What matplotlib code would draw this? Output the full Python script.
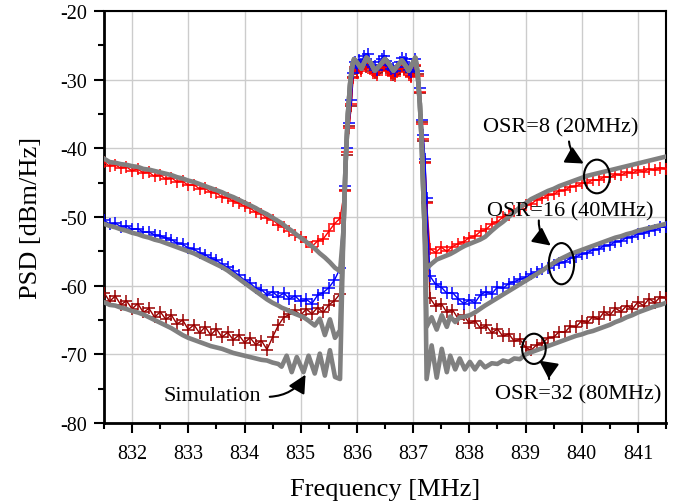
import numpy as np
import matplotlib
matplotlib.use("Agg")
import matplotlib.pyplot as plt
from matplotlib.patches import Ellipse, FancyArrowPatch
from matplotlib.ticker import MultipleLocator

plt.rcParams['font.family'] = ['Liberation Serif', 'DejaVu Serif']
plt.rcParams['axes.unicode_minus'] = False

# measured spectra: frequency grids (MHz)
f_left = np.linspace(831.5, 835.7, 43)
f_right = np.linspace(837.3, 841.5, 43)
f_band = [835.78, 835.82, 835.86, 835.90, 835.93, 835.96,
          836.00, 836.04, 836.08, 836.12, 836.16, 836.20, 836.24, 836.28,
          836.32, 836.36, 836.40, 836.44, 836.48, 836.52, 836.56, 836.60,
          836.64, 836.68, 836.72, 836.76, 836.80, 836.84, 836.88, 836.92,
          836.96, 837.00, 837.04, 837.08, 837.12, 837.15, 837.18, 837.21, 837.24]

# OSR=8 measured (red)
red_left = [-42.0, -42.6, -42.4, -42.9, -42.7, -43.3, -43.0, -43.6, -43.5, -44.1,
            -43.9, -44.5, -44.3, -44.9, -44.8, -45.4, -45.3, -45.9, -45.8, -46.4,
            -46.5, -47.1, -47.2, -47.7, -48.0, -48.4, -48.7, -49.3, -49.5, -50.2,
            -50.4, -51.1, -51.5, -52.0, -52.6, -52.9, -53.6, -54.3, -53.5, -53.2,
            -52.1, -51.0, -50.2]
red_band = [-46.2, -40.6, -37.0, -33.6, -29.8, -28.2, -29.0, -28.0, -28.7, -27.5,
            -27.9, -27.4, -28.4, -29.0, -28.9, -29.3, -28.4, -27.9, -27.6, -28.2,
            -28.8, -29.3, -29.1, -29.5, -28.9, -28.2, -27.8, -28.4, -27.9, -29.3,
            -29.6, -28.5, -27.8, -29.5, -31.8, -36.5, -38.7, -42.2, -48.0]
red_right = [-54.6, -55.2, -54.4, -55.0, -54.3, -53.9, -53.6, -53.0, -52.8, -52.1,
             -51.8, -51.0, -50.7, -50.0, -49.7, -49.1, -48.9, -48.3, -48.1, -47.5,
             -47.3, -46.8, -46.7, -46.2, -46.1, -45.6, -45.5, -45.1, -45.0, -44.6,
             -44.6, -44.2, -44.2, -43.8, -43.9, -43.5, -43.6, -43.2, -43.4, -43.0,
             -43.2, -42.8, -43.0]

# OSR=16 measured (blue)
blue_left = [-50.5, -51.0, -50.9, -51.4, -51.3, -51.8, -51.7, -52.2, -52.2, -52.6,
             -52.7, -53.1, -53.3, -53.8, -54.0, -54.5, -54.7, -55.2, -55.5, -56.0,
             -56.3, -56.9, -57.3, -57.9, -58.5, -59.2, -59.6, -60.4, -60.6, -61.3,
             -60.9, -61.6, -61.1, -61.9, -61.5, -62.3, -62.0, -62.6, -61.4, -61.0,
             -60.3, -59.2, -57.5]
blue_band = [-45.5, -40.0, -36.3, -33.0, -29.0, -27.5, -28.3, -27.2, -27.9, -26.5,
             -27.0, -26.3, -27.8, -28.2, -28.0, -28.6, -27.5, -27.0, -26.6, -27.3,
             -27.9, -28.5, -28.3, -28.8, -28.1, -27.4, -26.9, -27.5, -27.0, -28.6,
             -28.9, -27.7, -27.0, -28.8, -31.2, -35.9, -38.0, -41.5, -47.3]
blue_right = [-58.6, -59.8, -60.2, -61.1, -61.0, -61.9, -62.6, -62.1, -62.5, -61.3,
              -60.9, -61.2, -60.2, -60.4, -59.7, -59.4, -59.1, -58.8, -58.3, -58.0,
              -57.6, -57.4, -57.0, -56.7, -56.5, -56.0, -55.8, -55.4, -55.2, -54.8,
              -54.7, -54.2, -54.1, -53.6, -53.5, -53.0, -52.9, -52.5, -52.4, -52.0,
              -51.9, -51.5, -51.5]

# OSR=32 measured (dark red)
dred_left = [-61.0, -62.3, -61.5, -62.8, -62.2, -63.4, -62.6, -63.9, -63.3, -64.6,
             -63.8, -64.9, -64.3, -65.6, -65.0, -66.4, -65.7, -66.9, -66.0, -67.2,
             -66.3, -67.5, -66.8, -67.9, -67.2, -68.3, -67.6, -68.6, -68.0, -69.3,
             -67.5, -65.8, -64.6, -64.2, -63.6, -64.3, -63.4, -64.1, -63.2, -63.9,
             -62.8, -62.2, -61.2]
dred_band = [-46.0, -40.9, -36.8, -33.8, -29.6, -28.4, -28.8, -28.2, -28.5, -27.7,
             -28.1, -27.6, -28.2, -28.8, -29.1, -29.0, -28.6, -28.1, -27.8, -28.0,
             -28.6, -29.1, -29.3, -29.2, -28.7, -28.4, -28.0, -28.2, -28.1, -29.0,
             -29.4, -28.7, -28.0, -29.2, -32.0, -36.2, -38.9, -42.0, -47.8]
dred_right = [-61.8, -63.0, -62.6, -63.9, -63.5, -64.8, -64.3, -65.5, -65.1, -66.2,
              -65.8, -66.9, -66.3, -67.4, -67.0, -68.1, -67.8, -69.0, -69.4, -68.6,
              -68.4, -67.6, -67.5, -66.7, -66.8, -65.9, -66.0, -65.1, -65.4, -64.5,
              -64.9, -63.8, -64.3, -63.3, -63.8, -62.9, -63.4, -62.4, -62.9, -61.9,
              -62.5, -61.6, -61.8]

# simulated spectra (gray): frequency grids
fs_left = np.concatenate([np.linspace(831.5, 834.6, 32),
                          [834.66, 834.75, 834.84, 834.93, 835.05, 835.14,
                           835.25, 835.34, 835.43, 835.52, 835.61, 835.70]])
fs_band = [835.76, 835.80, 835.84, 835.88, 835.92, 835.95, 836.01, 836.08, 836.17,
           836.25, 836.32, 836.41, 836.50, 836.58, 836.65, 836.72, 836.80, 836.86,
           836.92, 836.98, 837.04, 837.08, 837.12, 837.15, 837.18, 837.21]
fs_right = np.concatenate([[837.24, 837.33, 837.42, 837.51, 837.60, 837.66, 837.75,
                            837.83, 837.92, 838.01, 838.10, 838.19, 838.28],
                           np.linspace(838.4, 841.5, 32)])

sim_band = [-52.0, -42.0, -35.0, -30.5, -27.8, -27.0, -27.6, -28.4, -26.8, -27.6,
            -28.7, -27.9, -27.0, -27.8, -28.7, -28.0, -27.2, -27.9, -28.7, -27.8,
            -26.8, -29.0, -33.5, -38.5, -46.0, -53.0]

sim8_left = [-41.5, -42.0, -42.1, -42.3, -42.4, -42.6, -42.7, -43.0, -43.1, -43.3,
             -43.5, -43.7, -43.9, -44.2, -44.4, -44.7, -44.9, -45.2, -45.5, -45.8,
             -46.1, -46.4, -46.8, -47.1, -47.5, -47.9, -48.3, -48.7, -49.2, -49.6,
             -50.1, -50.6,
             -50.9, -51.5, -52.0, -52.6, -53.3, -53.9, -54.6, -55.3, -55.9, -56.6,
             -57.4, -57.9]
sim8_right = [-57.5, -56.8, -56.2, -55.9, -55.6, -55.4, -55.0, -54.6, -54.2, -53.9,
              -53.6, -53.3, -52.9,
              -52.0, -51.3, -50.7, -50.0, -49.3, -48.6, -48.0, -47.4, -47.0, -46.6,
              -46.2, -45.9, -45.5, -45.2, -44.9, -44.6, -44.3, -44.0, -43.8, -43.6,
              -43.4, -43.2, -43.0, -42.8, -42.6, -42.4, -42.2, -42.0, -41.8, -41.6,
              -41.4, -41.2]

sim16_left = [-51.0, -51.3, -51.5, -51.8, -52.0, -52.3, -52.5, -52.8, -53.0, -53.3,
              -53.5, -53.8, -54.1, -54.4, -54.7, -55.0, -55.3, -55.7, -56.1, -56.5,
              -56.9, -57.3, -57.8, -58.4, -59.0, -59.6, -60.2, -60.8, -61.4, -62.0,
              -62.5, -62.9,
              -63.2, -63.5, -63.9, -64.2, -64.6, -65.1, -65.8, -64.8, -67.2, -64.9,
              -67.6, -66.5]
sim16_right = [-66.0, -64.6, -66.4, -64.3, -66.0, -64.5, -65.3, -64.6, -64.5, -64.3,
               -63.9, -63.4, -62.9,
               -62.3, -61.8, -61.3, -60.8, -60.3, -59.8, -59.3, -58.8, -58.3, -57.8,
               -57.2, -56.7, -56.2, -55.8, -55.4, -55.1, -54.8, -54.5, -54.2, -53.9,
               -53.6, -53.3, -53.0, -52.8, -52.5, -52.3, -52.0, -51.8, -51.6, -51.4,
               -51.2, -51.0]

sim32_left = [-62.4, -62.8, -62.9, -63.2, -63.4, -63.7, -63.9, -64.2, -64.6, -65.0,
              -65.4, -65.8, -66.2, -66.7, -67.2, -67.6, -67.9, -68.2, -68.5, -68.8,
              -69.0, -69.2, -69.5, -69.8, -70.0, -70.2, -70.4, -70.6, -70.8, -70.9,
              -71.2, -71.4,
              -71.8, -70.2, -72.6, -70.4, -72.6, -70.2, -72.8, -69.9, -73.1, -69.4,
              -73.3, -73.6]
sim32_right = [-73.6, -68.7, -73.4, -69.2, -72.6, -70.2, -72.2, -70.6, -72.2, -71.1,
               -72.2, -71.1, -71.9,
               -71.3, -71.4, -70.9, -71.1, -70.6, -70.7, -70.0, -69.7, -69.4, -69.1,
               -68.8, -68.5, -68.2, -67.9, -67.6, -67.3, -67.1, -66.8, -66.6, -66.3,
               -66.0, -65.7, -65.3, -65.0, -64.6, -64.3, -63.9, -63.6, -63.3, -63.0,
               -62.8, -62.5]

fig = plt.figure(figsize=(6.78, 5.02), dpi=100)
ax = fig.add_axes([0.1534, 0.1554, 0.8289, 0.8207])

fm = np.concatenate([f_left, f_band, f_right])
fs = np.concatenate([fs_left, fs_band, fs_right])

for left, band, right, col in [(dred_left, dred_band, dred_right, '#990000'),
                               (red_left, red_band, red_right, '#ff0000'),
                               (blue_left, blue_band, blue_right, '#0000ff')]:
    ax.plot(fm, np.concatenate([left, band, right]), color=col, lw=1.0,
            marker='+', ms=8, mew=1.1, zorder=3)

for left, right in [(sim8_left, sim8_right), (sim16_left, sim16_right),
                    (sim32_left, sim32_right)]:
    ax.plot(fs, np.concatenate([left, sim_band, right]), color='#808080',
            lw=3.3, solid_joinstyle='round', zorder=4)

ax.set_xlim(831.5, 841.5)
ax.set_ylim(-80, -20)
ax.xaxis.set_major_locator(MultipleLocator(1))
ax.xaxis.set_minor_locator(MultipleLocator(0.5))
ax.yaxis.set_major_locator(MultipleLocator(10))
ax.yaxis.set_minor_locator(MultipleLocator(5))
ax.grid(True, which='major', color='#cccccc', lw=1.0)
ax.set_axisbelow(True)
ax.tick_params(which='major', direction='out', length=7, width=1.5,
               labelsize=14.5, pad=5, top=False, right=False)
ax.tick_params(axis='x', which='major', pad=8)
ax.tick_params(which='minor', direction='out', length=4, width=1.5,
               top=False, right=False)
for sp in ax.spines.values():
    sp.set_linewidth(1.5)
ax.spines['left'].set_linewidth(2)
ax.spines['bottom'].set_linewidth(2)

ax.set_xlabel('Frequency [MHz]', fontsize=19, labelpad=11)
ax.set_ylabel('PSD [dBm/Hz]', fontsize=19, labelpad=13)

# annotations
ax.text(839.63, -36.9, 'OSR=8 (20MHz)', fontsize=16, ha='center', va='center', zorder=6)
ax.text(839.79, -49.1, 'OSR=16 (40MHz)', fontsize=16, ha='center', va='center', zorder=6)
ax.text(839.93, -75.7, 'OSR=32 (80MHz)', fontsize=16, ha='center', va='center', zorder=6)
ax.text(833.43, -76.0, 'Simulation', fontsize=16, ha='center', va='center', zorder=6)

for cx, cy, w, h in [(840.27, -44.1, 0.46, 4.9), (839.64, -56.8, 0.45, 6.0),
                     (839.15, -69.2, 0.42, 4.4)]:
    ax.add_patch(Ellipse((cx, cy), w, h, fill=False, ec='black', lw=1.5, zorder=6))

for p0, p1 in [((839.77, -38.6), (840.08, -42.4)),
               ((839.24, -50.1), (839.49, -54.4)),
               ((839.42, -74.0), (839.20, -70.7)),
               ((834.40, -76.2), (835.11, -72.6))]:
    ax.add_patch(FancyArrowPatch(p0, p1, arrowstyle='-|>,head_length=0.6,head_width=0.3',
                                 mutation_scale=18, connectionstyle='arc3,rad=0.3',
                                 color='black', lw=1.5, zorder=6))

fig.savefig('out.png', dpi=100)
